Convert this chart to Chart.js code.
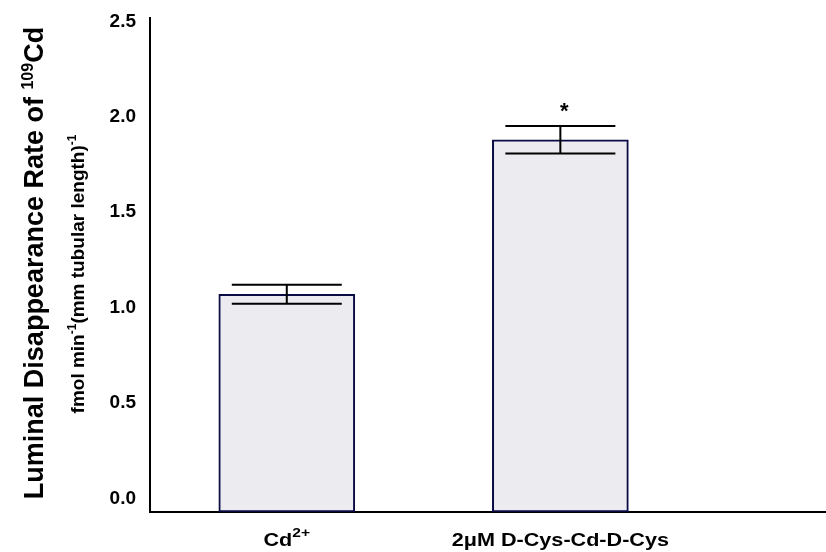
<!DOCTYPE html>
<html>
<head>
<meta charset="utf-8">
<script src="https://cdn.jsdelivr.net/npm/chart.js@4"></script>
<style>
  body { margin:0; background:#fff; }
</style>
</head>
<body>
<canvas id="mychart" width="826" height="552"></canvas>
<script>
// values
var groups = ['Cd', '2μM D-Cys-Cd-D-Cys']
var groupSup = ['2+', '']
var xPos = [1, 2]
var rates = [1.07, 1.88]
var errs = [0.05, 0.072]
var marks = ['', '*']
var yTicks = [0, 0.5, 1.0, 1.5, 2.0, 2.5]

var font = '"Liberation Sans", Arial, sans-serif'

// draw a line of text with superscript pieces, centred on 0
function richText(ctx, parts, size, supSize, rise) {
    var w = 0
    parts.forEach(function (p) {
        ctx.font = 'bold ' + (p.sup ? supSize : size) + 'px ' + font
        p.w = ctx.measureText(p.t).width
        w += p.w
    })
    var x = -w / 2
    parts.forEach(function (p) {
        ctx.font = 'bold ' + (p.sup ? supSize : size) + 'px ' + font
        ctx.fillText(p.t, x, p.sup ? -rise : 0)
        x += p.w
    })
}

var extras = {
    id: 'extras',
    afterDatasetsDraw: function (chart) {
        var ctx = chart.ctx
        var xs = chart.scales.x, ys = chart.scales.y
        ctx.save()
        ctx.strokeStyle = '#000'
        ctx.lineWidth = 2
        for (var i = 0; i < rates.length; i++) {
            var cx = xs.getPixelForValue(xPos[i])
            var hi = ys.getPixelForValue(rates[i] + errs[i])
            var lo = ys.getPixelForValue(rates[i] - errs[i])
            ctx.beginPath()
            ctx.moveTo(cx, hi); ctx.lineTo(cx, lo)
            ctx.moveTo(cx - 55, hi); ctx.lineTo(cx + 55, hi)
            ctx.moveTo(cx - 55, lo); ctx.lineTo(cx + 55, lo)
            ctx.stroke()
            if (marks[i]) {
                ctx.fillStyle = '#000'
                ctx.font = 'bold 22px ' + font
                ctx.textAlign = 'center'
                ctx.textBaseline = 'alphabetic'
                ctx.fillText(marks[i], cx + 4, hi - 8)
            }
        }
        ctx.restore()
    },
    afterDraw: function (chart) {
        var ctx = chart.ctx
        var xs = chart.scales.x
        ctx.save()
        ctx.fillStyle = '#000'
        ctx.textBaseline = 'alphabetic'
        ctx.textAlign = 'left'
        // category labels, slightly stretched like the original
        for (var i = 0; i < groups.length; i++) {
            ctx.save()
            ctx.translate(xs.getPixelForValue(xPos[i]), 546)
            ctx.scale(1.2, 1)
            var parts = [{t: groups[i]}]
            if (groupSup[i]) parts.push({t: groupSup[i], sup: true})
            richText(ctx, parts, 18, 13, 9)
            ctx.restore()
        }
        // y axis titles
        ctx.save()
        ctx.translate(43, 263)
        ctx.rotate(-Math.PI / 2)
        richText(ctx, [{t: 'Luminal Disappearance Rate of '}, {t: '109', sup: true}, {t: 'Cd'}], 27, 16, 10)
        ctx.restore()
        ctx.save()
        ctx.translate(84, 274)
        ctx.rotate(-Math.PI / 2)
        richText(ctx, [{t: 'fmol min'}, {t: '-1', sup: true}, {t: '(mm tubular length)'}, {t: '-1', sup: true}], 19, 12, 8)
        ctx.restore()
        ctx.restore()
    }
}

var myChart = document.getElementById('mychart').getContext('2d')

var chart = new Chart(myChart, {
    type: 'bar',
    data: {
        datasets: [{
            data: xPos.map(function (x, i) { return {x: x, y: rates[i]} }),
            backgroundColor: '#ecebf0',
            borderColor: '#0a0a45',
            borderWidth: 2,
            borderSkipped: false,
            barThickness: 136,
            base: -0.071,
        }],
    },
    options: {
        responsive: false,
        animation: false,
        devicePixelRatio: 1,
        layout: { padding: { top: 0, right: 0, left: 0, bottom: 0 } },
        plugins: { legend: { display: false }, tooltip: { enabled: false } },
        scales: {
            x: {
                type: 'linear',
                offset: false,
                min: 0.5,
                max: 2.971,
                grid: { display: false, drawTicks: false, offset: false },
                border: { display: true, color: '#000', width: 2 },
                ticks: { display: false },
                afterBuildTicks: function (s) { s.ticks = xPos.map(function (v) { return {value: v} }) },
                afterFit: function (s) { s.height = 40 },
            },
            y: {
                min: -0.071,
                max: 2.518,
                grid: { display: false, drawTicks: false },
                border: { display: true, color: '#000', width: 2 },
                ticks: {
                    color: '#000',
                    padding: 14,
                    font: { family: font, size: 19, weight: 'bold' },
                    callback: function (v) { return v.toFixed(1) },
                },
                afterBuildTicks: function (s) { s.ticks = yTicks.map(function (v) { return {value: v} }) },
                afterFit: function (s) { s.width = 150; s.paddingTop = 0 },
                afterUpdate: function (s) { },
            },
        },
    },
    plugins: [extras, {
        id: 'area',
        beforeLayout: function (chart) { chart.options.layout.padding.top = 18 },
        afterLayout: function (chart) {
            // keep the plot box where the original has it
            var ys = chart.scales.y
            if (chart.chartArea.top !== 18) {
                chart.options.layout.padding.top = 18 - (chart.chartArea.top - 18)
            }
        }
    }],
})
chart.update()
</script>
</body>
</html>
